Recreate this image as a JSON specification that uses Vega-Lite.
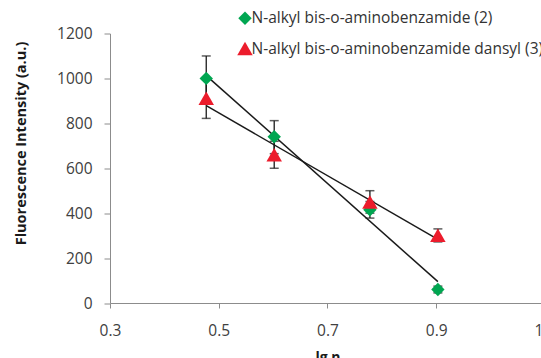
{
  "$schema": "https://vega.github.io/schema/vega-lite/v6.json",
  "autosize": {"type": "none"},
  "padding": {"left": 110, "top": 33.5, "right": -4, "bottom": 55},
  "width": 435,
  "height": 269.5,
  "background": "white",
  "config": {
    "view": {"stroke": null},
    "font": "Open Sans",
    "axis": {
      "grid": false,
      "domainColor": "#8c8c8c",
      "tickColor": "#8c8c8c",
      "labelFont": "Open Sans",
      "labelFontSize": 15.5,
      "labelColor": "#404040",
      "titleFont": "Open Sans",
      "titleFontWeight": "bold",
      "titleColor": "#1a1a1a"
    }
  },
  "data": {
    "values": [
      {"series": "N-alkyl bis-o-aminobenzamide (2)", "lgn": 0.477, "intensity": 1000, "lo": 900, "hi": 1100},
      {"series": "N-alkyl bis-o-aminobenzamide (2)", "lgn": 0.602, "intensity": 740, "lo": 665, "hi": 812},
      {"series": "N-alkyl bis-o-aminobenzamide (2)", "lgn": 0.778, "intensity": 415, "lo": 378, "hi": 452},
      {"series": "N-alkyl bis-o-aminobenzamide (2)", "lgn": 0.903, "intensity": 60, "lo": 45, "hi": 75},
      {"series": "N-alkyl bis-o-aminobenzamide dansyl (3)", "lgn": 0.477, "intensity": 912, "lo": 822, "hi": 1000},
      {"series": "N-alkyl bis-o-aminobenzamide dansyl (3)", "lgn": 0.602, "intensity": 660, "lo": 600, "hi": 720},
      {"series": "N-alkyl bis-o-aminobenzamide dansyl (3)", "lgn": 0.778, "intensity": 450, "lo": 400, "hi": 500},
      {"series": "N-alkyl bis-o-aminobenzamide dansyl (3)", "lgn": 0.903, "intensity": 302, "lo": 272, "hi": 330}
    ]
  },
  "layer": [
    {
      "mark": {"type": "errorbar", "color": "#1a1a1a", "thickness": 1.3, "ticks": {"size": 9, "thickness": 1.5, "color": "#1a1a1a"}},
      "encoding": {
        "x": {"field": "lgn", "type": "quantitative", "title": "lg n"},
        "y": {"field": "lo", "type": "quantitative", "title": "Fluorescence Intensity (a.u.)"},
        "y2": {"field": "hi"}
      }
    },
    {
      "transform": [{"regression": "intensity", "on": "lgn", "groupby": ["series"]}],
      "mark": {"type": "line", "color": "#1a1a1a", "strokeWidth": 1.5},
      "encoding": {
        "x": {"field": "lgn", "type": "quantitative", "title": "lg n"},
        "y": {"field": "intensity", "type": "quantitative", "title": "Fluorescence Intensity (a.u.)"},
        "detail": {"field": "series"}
      }
    },
    {
      "mark": {"type": "point", "filled": true, "opacity": 1},
      "encoding": {
        "x": {
          "field": "lgn", "type": "quantitative", "title": "lg n",
          "scale": {"domain": [0.3, 1.1], "nice": false, "zero": false},
          "axis": {"values": [0.3, 0.5, 0.7, 0.9, 1.1], "format": ".1f", "labelFlush": false, "tickSize": 5, "labelPadding": 15, "titleFontSize": 14, "titleBaseline": "top", "titleY": 47}
        },
        "y": {
          "field": "intensity", "type": "quantitative", "title": "Fluorescence Intensity (a.u.)",
          "scale": {"domain": [0, 1200], "nice": false},
          "axis": {"values": [0, 200, 400, 600, 800, 1000, 1200], "format": "d", "tickSize": 6, "labelPadding": 12, "titleFontSize": 14.5, "titleX": -82, "titleY": 109.5, "titleAngle": -90, "titleAlign": "center", "titleBaseline": "bottom"}
        },
        "color": {
          "field": "series", "type": "nominal",
          "scale": {"domain": ["N-alkyl bis-o-aminobenzamide (2)", "N-alkyl bis-o-aminobenzamide dansyl (3)"], "range": ["#00a651", "#ec1c2c"]},
          "legend": {"orient": "none", "legendX": 127, "legendY": -23, "title": null, "padding": 0, "symbolSize": 90, "labelFontSize": 15.5, "labelColor": "#333333", "labelLimit": 400, "labelOffset": -1.5, "rowPadding": 13, "symbolStrokeWidth": 0}
        },
        "shape": {
          "field": "series", "type": "nominal",
          "scale": {"domain": ["N-alkyl bis-o-aminobenzamide (2)", "N-alkyl bis-o-aminobenzamide dansyl (3)"], "range": ["diamond", "triangle-up"]},
          "legend": {"orient": "none", "legendX": 127, "legendY": -23, "title": null, "padding": 0, "symbolSize": 90, "labelFontSize": 15.5, "labelColor": "#333333", "labelLimit": 400, "labelOffset": -1.5, "rowPadding": 13, "symbolStrokeWidth": 0}
        },
        "size": {
          "field": "series", "type": "nominal",
          "scale": {"domain": ["N-alkyl bis-o-aminobenzamide (2)", "N-alkyl bis-o-aminobenzamide dansyl (3)"], "range": [180, 240]},
          "legend": null
        }
      }
    }
  ]
}
